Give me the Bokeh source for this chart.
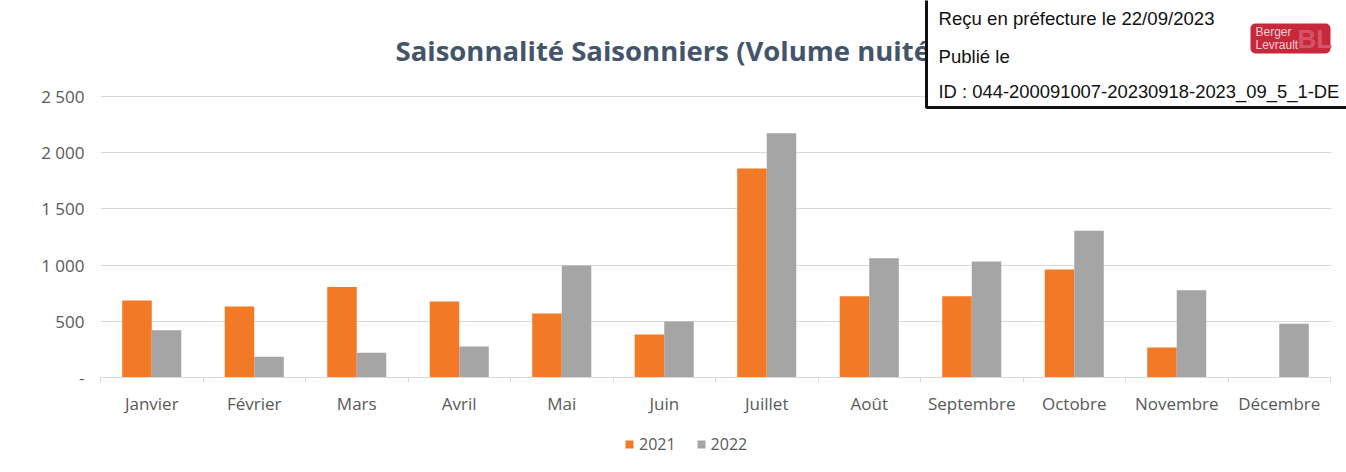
import numpy as np
from bokeh.plotting import figure
from bokeh.layouts import column
from bokeh.models import (ColumnDataSource, FixedTicker, Label, BoxAnnotation,
                          Legend, LegendItem, Range1d)
from bokeh.embed import file_html
from bokeh.resources import INLINE

months = ["Janvier", "Février", "Mars", "Avril", "Mai", "Juin", "Juillet",
          "Août", "Septembre", "Octobre", "Novembre", "Décembre"]
v2021 = [685, 632, 805, 676, 570, 382, 1860, 722, 722, 960, 266, 0]
v2022 = [420, 184, 221, 275, 997, 498, 2172, 1060, 1031, 1305, 776, 478]
series = ["2021", "2022"]
y_ticks = [0, 500, 1000, 1500, 2000, 2500]
y_labels = ["-", "500", "1 000", "1 500", "2 000", "2 500"]

ORANGE = "#F27A26"
GREY = "#A5A5A5"
TXT = "#595959"
FONT = "Open Sans"

# geometry (pixels): plot area x 100..1330, y 96..377 ; frame extended to the
# canvas top and right so that the header annotations are not clipped
FL, FB = 100, 377
CAT_PX = 1230 / 12.0
PX_PER_UNIT = 281 / 2500.0

centers = np.arange(len(months)) + 0.5
bw = 0.288
src = ColumnDataSource(dict(x1=centers - bw / 2, x2=centers + bw / 2,
                            a=v2021, b=v2022))

p = figure(frame_width=1246, frame_height=377, output_backend="svg",
           toolbar_location=None,
           x_range=Range1d(0, 1246 / CAT_PX), y_range=Range1d(0, 377 / PX_PER_UNIT),
           min_border_left=100, min_border_right=0, min_border_top=0,
           min_border_bottom=55)
p.outline_line_color = None
p.background_fill_color = "white"

p.vbar(x="x1", top="a", width=bw, source=src, fill_color=ORANGE, line_color=None)
p.vbar(x="x2", top="b", width=bw, source=src, fill_color=GREY, line_color=None)

# axes
p.xaxis.ticker = FixedTicker(ticks=list(centers), minor_ticks=list(range(0, 13)))
p.xaxis.bounds = (0, 12)
p.xaxis.major_label_overrides = {float(c): m for c, m in zip(centers, months)}
p.xaxis.major_tick_out = 0
p.xaxis.major_tick_in = 0
p.xaxis.minor_tick_out = 5
p.xaxis.minor_tick_in = 0
p.xaxis.minor_tick_line_color = "#D9D9D9"
p.xaxis.axis_line_color = "#D9D9D9"
p.xaxis.major_label_standoff = 9
p.xaxis.major_label_text_font = FONT
p.xaxis.major_label_text_font_size = "17px"
p.xaxis.major_label_text_color = TXT

p.yaxis.ticker = FixedTicker(ticks=y_ticks, minor_ticks=[])
p.yaxis.major_label_overrides = {t: l for t, l in zip(y_ticks, y_labels)}
p.yaxis.axis_line_color = None
p.yaxis.major_tick_line_color = None
p.yaxis.major_tick_out = 0
p.yaxis.major_tick_in = 0
p.yaxis.major_label_standoff = 16
p.yaxis.major_label_text_font = FONT
p.yaxis.major_label_text_font_size = "17px"
p.yaxis.major_label_text_color = TXT

p.xgrid.grid_line_color = None
p.ygrid.grid_line_color = "#D9D9D9"
p.ygrid.ticker = FixedTicker(ticks=y_ticks)


def box(l, r, t, b, **kw):
    p.add_layout(BoxAnnotation(left=l - FL, right=r - FL, top=FB - t, bottom=FB - b,
                               left_units="screen", right_units="screen",
                               top_units="screen", bottom_units="screen", **kw))


def lab(px, py, text, **kw):
    p.add_layout(Label(x=px - FL, y=FB - py, x_units="screen", y_units="screen",
                       text=text, **kw))


# hide gridlines beyond the plot area on the right
box(1331, 1360, 90, 378, fill_color="white", fill_alpha=1, line_color=None)

lab(395, 50, "Saisonnalité Saisonniers (Volume nuitées)", text_font=FONT,
    text_font_style="bold", text_font_size="27.5px", text_color="#44546A",
    text_baseline="middle", text_align="left")

# stamp box
box(926, 1352, -6, 107, fill_color="white", fill_alpha=1,
    line_color="#111111", line_alpha=1, line_width=3)
SF = "Liberation Sans"
lab(938, 18, "Reçu en préfecture le 22/09/2023", text_font=SF, text_font_size="18.6px",
    text_color="#111111", text_baseline="middle")
lab(938, 56, "Publié le", text_font=SF, text_font_size="18.6px",
    text_color="#111111", text_baseline="middle")
lab(938, 91, "ID : 044-200091007-20230918-2023_09_5_1-DE", text_font=SF,
    text_font_size="18.4px", text_color="#111111", text_baseline="middle")

# logo
box(1250, 1330, 23, 53, fill_color="#C8283C", fill_alpha=1, line_color=None,
    border_radius=5)
lab(1297, 38, "BL", text_font=SF, text_font_size="26px", text_color="#D65468",
    text_font_style="bold", text_baseline="middle")
lab(1255, 31, "Berger", text_font=SF, text_font_size="12px", text_color="#F6CDD2",
    text_baseline="middle")
lab(1255, 44, "Levrault", text_font=SF, text_font_size="12px", text_color="#F6CDD2",
    text_baseline="middle")

# legend strip (separate figure so the legend is not clipped)
q = figure(width=1346, height=40, output_backend="svg", toolbar_location=None,
           x_axis_location=None, y_axis_location=None,
           x_range=Range1d(0, 1), y_range=Range1d(0, 1),
           min_border=0, min_border_left=0, min_border_right=0,
           min_border_top=0, min_border_bottom=0)
q.grid.visible = False
q.outline_line_color = None
# legend-only renderers, placed outside the visible range
proxy = ColumnDataSource(dict(x=[-5.0], top=[0.0]))
l1 = q.vbar(x="x", top="top", width=0.1, source=proxy, fill_color=ORANGE, line_color=None)
l2 = q.vbar(x="x", top="top", width=0.1, source=proxy, fill_color=GREY, line_color=None)
legend = Legend(items=[LegendItem(label=series[0], renderers=[l1]),
                       LegendItem(label=series[1], renderers=[l2])],
                orientation="horizontal", location=(524, 17),
                label_text_font=FONT, label_text_font_size="16px",
                label_text_color=TXT, glyph_width=10, glyph_height=10,
                spacing=20, label_standoff=5, border_line_color=None,
                background_fill_alpha=0, margin=0, padding=4)
q.add_layout(legend)

layout = column(p, q, spacing=0)
open("out.html", "w").write(file_html(layout, INLINE))
